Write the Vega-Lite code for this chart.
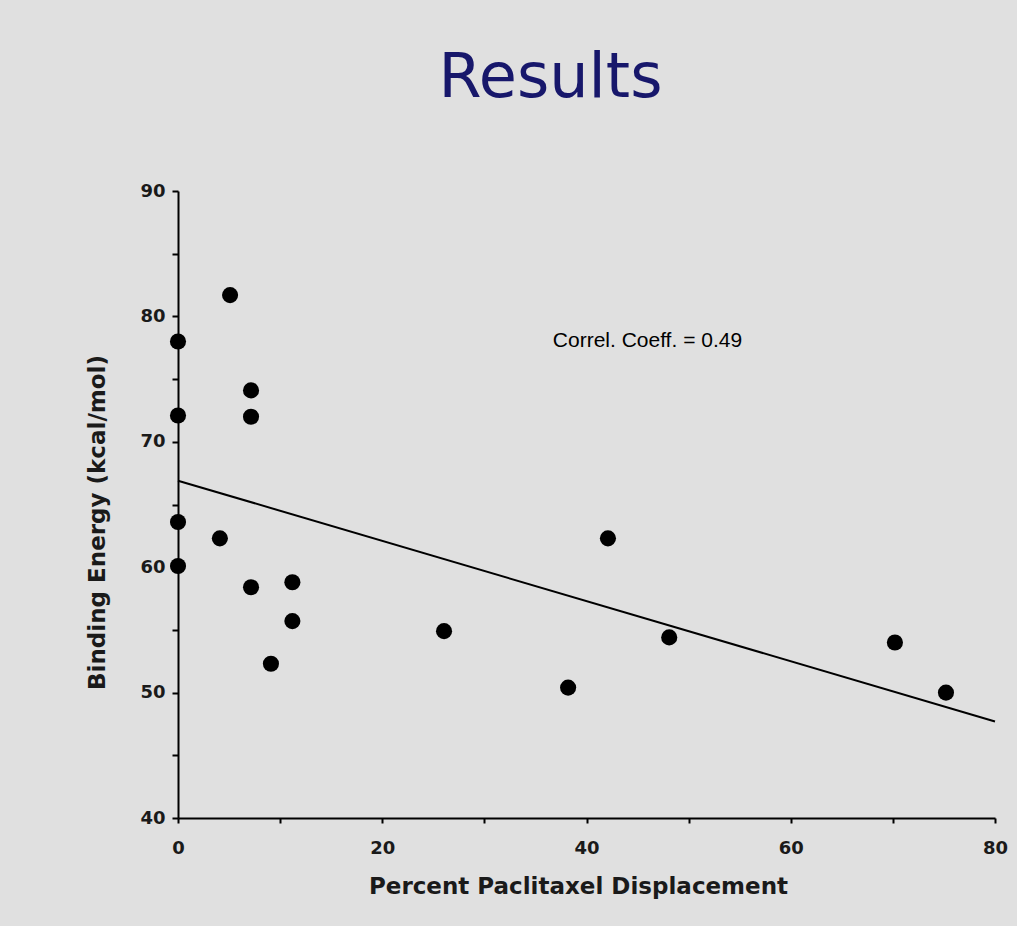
{
  "$schema": "https://vega.github.io/schema/vega-lite/v6.json",
  "width": 817,
  "height": 627,
  "autosize": {"type": "none"},
  "padding": {"left": 178, "top": 191, "right": 22, "bottom": 108},
  "background": "#e0e0e0",
  "title": {
    "text": "Results",
    "font": "DejaVu Sans",
    "fontSize": 62,
    "fontWeight": "normal",
    "color": "#17176b",
    "anchor": "middle",
    "frame": "group",
    "dx": -36,
    "offset": 23,
    "baseline": "alphabetic"
  },
  "config": {
    "view": {"stroke": null},
    "axis": {
      "grid": false,
      "domainColor": "black",
      "domainWidth": 2,
      "tickColor": "black",
      "tickWidth": 2,
      "labelFont": "DejaVu Sans",
      "labelFontWeight": "bold",
      "labelFontSize": 18,
      "labelColor": "#1a1a1a",
      "labelFlush": false,
      "labelOverlap": false,
      "titleFont": "DejaVu Sans",
      "titleFontWeight": "bold",
      "titleFontSize": 23,
      "titleColor": "#1a1a1a"
    }
  },
  "layer": [
    {
      "data": {"values": [
        {"displacement": 0, "energy": 78.0},
        {"displacement": 0, "energy": 72.1},
        {"displacement": 0, "energy": 63.6},
        {"displacement": 0, "energy": 60.1},
        {"displacement": 5.1, "energy": 81.7},
        {"displacement": 7.15, "energy": 74.1},
        {"displacement": 7.15, "energy": 72.0},
        {"displacement": 4.1, "energy": 62.3},
        {"displacement": 7.15, "energy": 58.4},
        {"displacement": 11.2, "energy": 58.8},
        {"displacement": 11.2, "energy": 55.7},
        {"displacement": 9.1, "energy": 52.3},
        {"displacement": 26.05, "energy": 54.9},
        {"displacement": 38.2, "energy": 50.4},
        {"displacement": 42.1, "energy": 62.3},
        {"displacement": 48.1, "energy": 54.4},
        {"displacement": 70.2, "energy": 54.0},
        {"displacement": 75.2, "energy": 50.0}
      ]},
      "mark": {"type": "point", "filled": true, "shape": "circle", "size": 260, "color": "black", "opacity": 1},
      "encoding": {
        "x": {
          "field": "displacement",
          "type": "quantitative",
          "scale": {"domain": [0, 80], "nice": false, "zero": false},
          "axis": {
            "values": [0, 10, 20, 30, 40, 50, 60, 70, 80],
            "labelExpr": "datum.value % 20 == 0 ? datum.label : ''",
            "tickSize": 5,
            "labelPadding": 16,
            "title": "Percent Paclitaxel Displacement",
            "titleX": 400,
            "titleY": 75,
            "titleAlign": "center",
            "titleBaseline": "alphabetic"
          }
        },
        "y": {
          "field": "energy",
          "type": "quantitative",
          "scale": {"domain": [40, 90], "nice": false, "zero": false},
          "axis": {
            "values": [40, 45, 50, 55, 60, 65, 70, 75, 80, 85, 90],
            "labelExpr": "datum.value % 10 == 0 ? datum.label : ''",
            "tickSize": 6,
            "labelPadding": 7,
            "title": "Binding Energy (kcal/mol)",
            "titleX": -81,
            "titleY": 331,
            "titleAngle": -90,
            "titleAlign": "center",
            "titleBaseline": "middle"
          }
        }
      }
    },
    {
      "data": {"values": [
        {"displacement": 0, "energy": 66.9},
        {"displacement": 80, "energy": 47.7}
      ]},
      "mark": {"type": "line", "color": "black", "strokeWidth": 2},
      "encoding": {
        "x": {"field": "displacement", "type": "quantitative"},
        "y": {"field": "energy", "type": "quantitative"}
      }
    },
    {
      "data": {"values": [
        {"displacement": 36.7, "energy": 78.0, "label": "Correl. Coeff. = 0.49"}
      ]},
      "mark": {"type": "text", "align": "left", "baseline": "middle", "font": "Liberation Sans", "fontSize": 21, "color": "black"},
      "encoding": {
        "x": {"field": "displacement", "type": "quantitative"},
        "y": {"field": "energy", "type": "quantitative"},
        "text": {"field": "label"}
      }
    }
  ]
}
